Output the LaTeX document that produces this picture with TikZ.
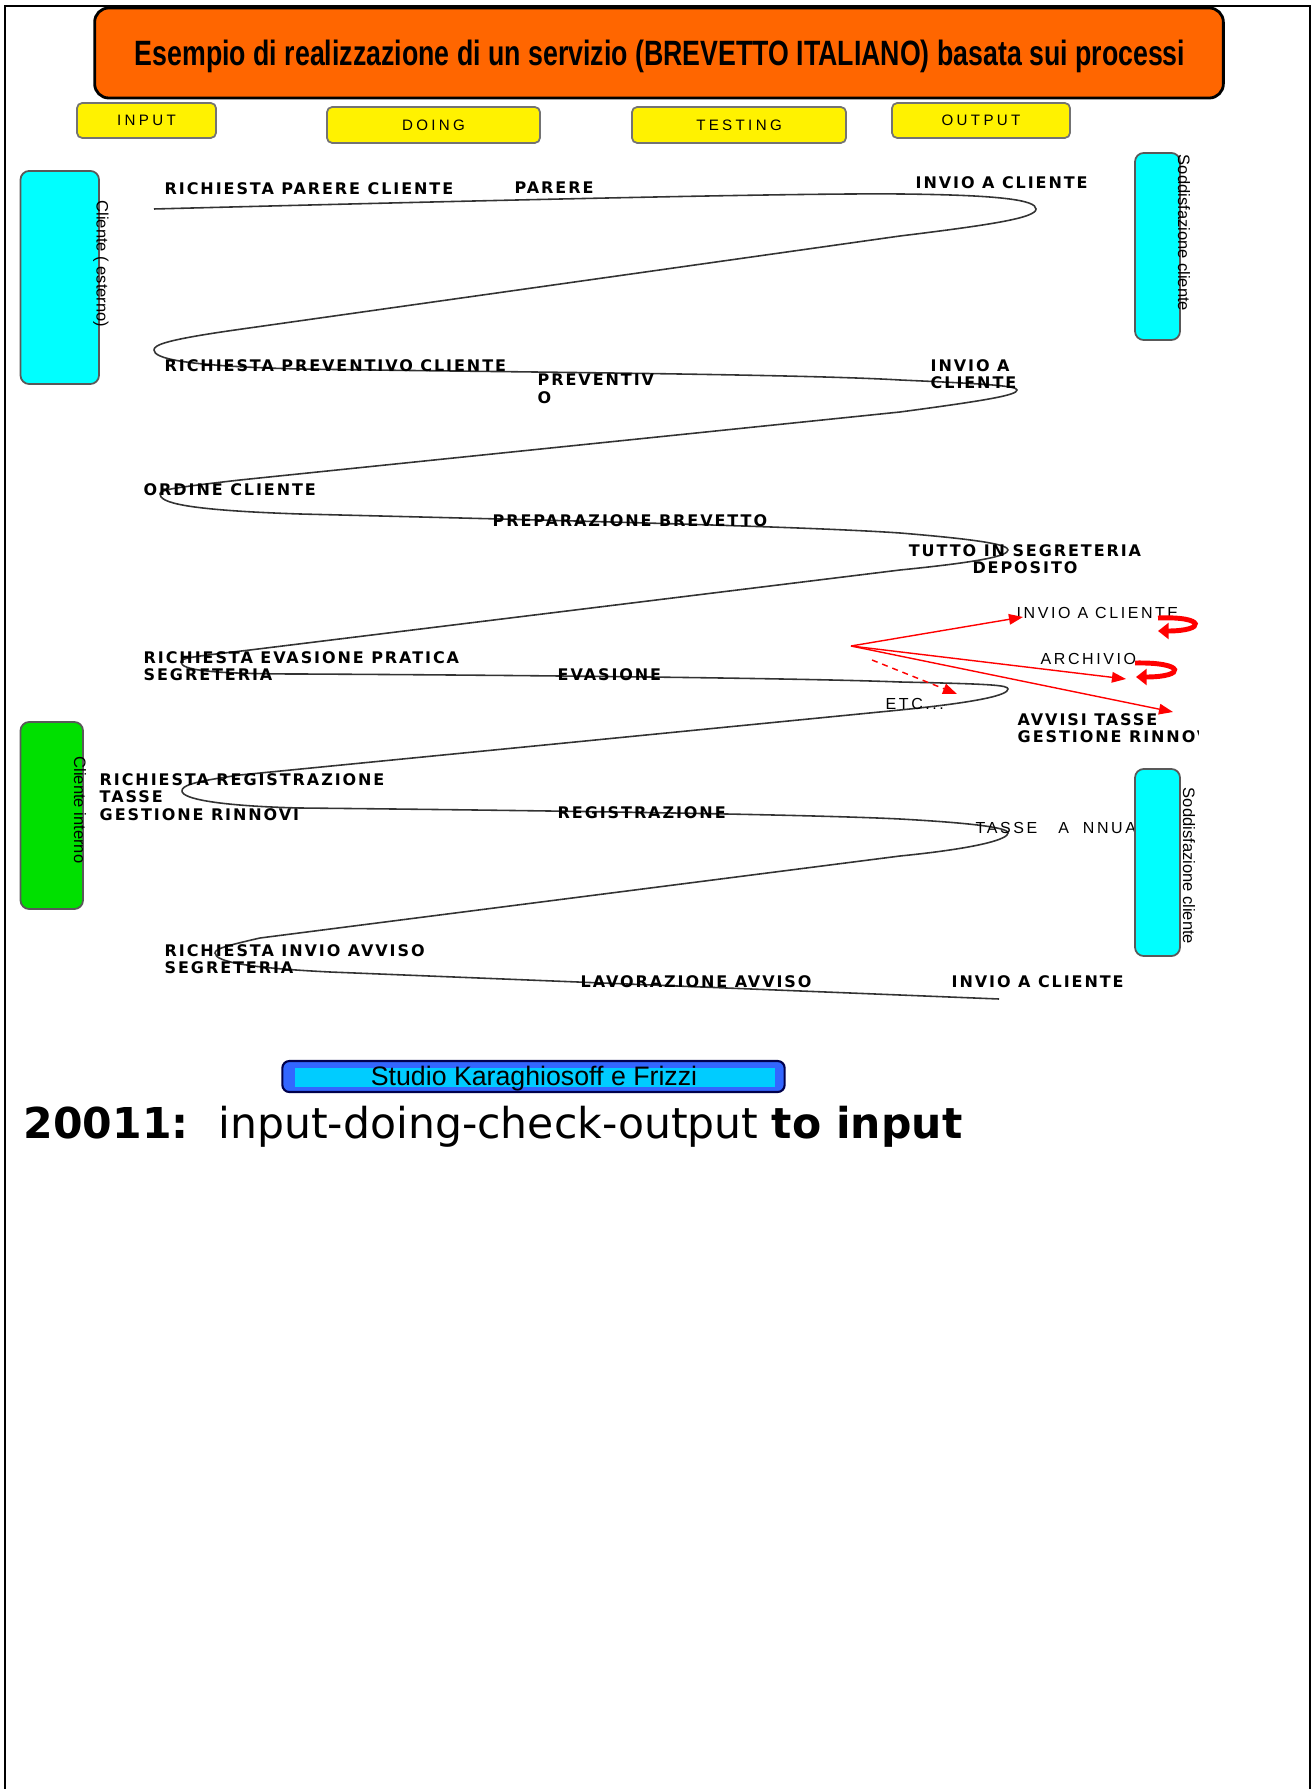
\documentclass[tikz,border=0pt]{standalone}
\usepackage{fontspec}
\setmainfont{Liberation Sans}
\newfontfamily\lblfont[LetterSpace=12]{DejaVu Sans}
\newfontfamily\txtfont[LetterSpace=16]{Liberation Sans}
\newfontfamily\phasefont[LetterSpace=22]{Liberation Sans}
\newfontfamily\slidefont{DejaVu Sans}
\usetikzlibrary{arrows.meta}
\definecolor{titleorange}{HTML}{FF6600}
\definecolor{boxcyan}{HTML}{00FFFF}
\definecolor{boxgreen}{HTML}{00E000}
\definecolor{studioblue}{HTML}{3366FF}
\definecolor{studiocyan}{HTML}{00CCFF}

\begin{document}
\begin{tikzpicture}[x=0.01cm,y=-0.01cm,
  lbl/.style={font=\lblfont\bfseries\fontsize{4.55}{5}\selectfont, inner sep=0pt, anchor=west, align=left},
  txt/.style={font=\txtfont\fontsize{4.55}{5.4}\selectfont, inner sep=0pt, anchor=west},
  phase/.style={draw=black!55, line width=0.5pt, fill=yellow, rounded corners=1.5pt, inner sep=0pt, font=\phasefont\fontsize{4.3}{5}\selectfont},
  actor/.style={draw=black!65, line width=0.5pt, rounded corners=2.5pt, inner sep=0pt},
  side/.style={rotate=-90, inner sep=0pt, font=\fontsize{4.7}{5.6}\selectfont},
  flow/.style={draw=black!80, line width=0.45pt},
  fork/.style={red, line width=0.4pt, -{Triangle[length=4pt,width=3pt]}},
  loopback/.style={red, line width=1.4pt, -{Triangle[length=3pt,width=4.5pt]}}]
\useasboundingbox (0,0) rectangle (1313,1789);
\draw[line width=0.6pt] (5,1789) -- (5,6) -- (1310,6) -- (1310,1789);

% title and phases
\node[draw=black, line width=0.8pt, fill=titleorange, rounded corners=4pt, minimum width=11.28cm, minimum height=0.9cm] (title) at (659,53) {};
\node[inner sep=0pt, font=\bfseries\fontsize{10}{12}\selectfont] (titleTxt) at (660,56)
  {\scalebox{0.76}[1]{Esempio di realizzazione di un servizio (BREVETTO ITALIANO) basata sui processi}};
\node[phase, minimum width=1.39cm, minimum height=0.35cm] (input) at (146.5,120.5) {INPUT};
\node[phase, minimum width=2.13cm, minimum height=0.36cm] (doing) at (433.5,125) {DOING};
\node[phase, minimum width=2.14cm, minimum height=0.36cm] (testing) at (739,125) {TESTING};
\node[phase, minimum width=1.78cm, minimum height=0.35cm] (output) at (981,120.5) {OUTPUT};

% the process thread
\draw[flow] (154,209) .. controls (500,200) and (800,193) .. (900,194)
  .. controls (1000,195) and (1036,200) .. (1036,209)
  .. controls (1036,218) and (990,225) .. (900,236)
  -- (235,330)
  .. controls (165,340) and (154,345) .. (154,350)
  .. controls (154,358) and (180,366) .. (300,369)
  .. controls (500,372) and (800,374) .. (900,380)
  .. controls (990,384) and (1017,386) .. (1017,390)
  .. controls (1017,395) and (990,400) .. (900,412)
  -- (240,480)
  .. controls (170,488) and (160,490) .. (160,494)
  .. controls (160,502) and (180,510) .. (300,514)
  .. controls (500,519) and (800,526) .. (900,533)
  .. controls (985,540) and (1008,545) .. (1008,550)
  .. controls (1008,556) and (980,562) .. (900,570)
  -- (250,650)
  .. controls (190,657) and (181,658) .. (181,662)
  .. controls (181,670) and (210,674) .. (300,674)
  .. controls (500,675) and (800,678) .. (900,682)
  .. controls (990,684) and (1008,685) .. (1008,689)
  .. controls (1008,695) and (980,702) .. (900,710)
  -- (240,775)
  .. controls (190,782) and (182,786) .. (182,791)
  .. controls (182,799) and (220,806) .. (300,808)
  .. controls (500,810) and (800,814) .. (900,819)
  .. controls (990,824) and (1008,829) .. (1008,833)
  .. controls (1008,839) and (980,848) .. (900,856)
  -- (260,938)
  .. controls (225,946) and (215,949) .. (215,953)
  .. controls (215,962) and (250,968) .. (330,972)
  -- (999,999);

% steps
\node[lbl] (parereReq) at (164,189) {RICHIESTA PARERE CLIENTE};
\node[lbl] (parere) at (514,188) {PARERE};
\node[lbl] (invioA) at (915,183) {INVIO A CLIENTE};
\node[lbl] (preventReq) at (164,366) {RICHIESTA PREVENTIVO CLIENTE};
\node[lbl] (preventivo) at (537,389) {PREVENTIV\\O};
\node[lbl] (invioB) at (930,374) {INVIO A\\CLIENTE};
\node[lbl] (ordine) at (143,490) {ORDINE CLIENTE};
\node[lbl] (prep) at (492,521) {PREPARAZIONE BREVETTO};
\node[lbl, anchor=center, align=center] (deposito) at (1025,559) {TUTTO IN SEGRETERIA\\DEPOSITO};
\node[lbl] (evasReq) at (143,666) {RICHIESTA EVASIONE PRATICA\\SEGRETERIA};
\node[lbl] (evasione) at (557,675) {EVASIONE};
\node[lbl] (registrReq) at (99,797) {RICHIESTA REGISTRAZIONE\\TASSE\\GESTIONE RINNOVI};
\node[lbl] (registr) at (557,813) {REGISTRAZIONE};
\node[lbl] (avvisoReq) at (164,959) {RICHIESTA INVIO AVVISO\\SEGRETERIA};
\node[lbl] (lavoraz) at (580,982) {LAVORAZIONE AVVISO};
\node[lbl] (invioC) at (951,982) {INVIO A CLIENTE};
\begin{scope}
\clip (1000,700) rectangle (1198,760);
\node[lbl] (avvisi) at (1017,728) {AVVISI TASSE\\GESTIONE RINNOVI};
\end{scope}

% outputs of the deposit
\node[txt] (invioD) at (1016,613) {INVIO A CLIENTE};
\node[txt] (archivio) at (1040,659) {ARCHIVIO};
\node[txt] (etc) at (885,704) {ETC...};
\node[txt] (tasse) at (975,828) {TASSE\ \ \ A\ \ NNUA};
\coordinate (split) at (851,646);
\coordinate (toInvio) at (1023,617);
\coordinate (toArchivio) at (1126,679);
\coordinate (toAvvisi) at (1173,712);
\coordinate (etcFrom) at (872,660);
\coordinate (toEtc) at (957,694);
\draw[fork] (split) -- (toInvio);
\draw[fork] (split) -- (toArchivio);
\draw[fork] (split) -- (toAvvisi);
\draw[fork, dash pattern=on 1.7pt off 1.4pt] (etcFrom) -- (toEtc);
\draw[loopback] (1158,618) .. controls (1206,616) and (1206,631) .. (1158,631);
\draw[loopback] (1135,663) .. controls (1186,662) and (1186,677) .. (1136,677);

% actors
\node[actor, fill=boxcyan, minimum width=0.785cm, minimum height=2.13cm] (esterno) at (59.75,277.5) {};
\node[side] at (101,264) {Cliente ( esterno)};
\node[actor, fill=boxcyan, minimum width=0.45cm, minimum height=1.87cm] (soddisfA) at (1157.5,246.5) {};
\node[side] at (1184,233) {Soddisfazione cliente};
\node[actor, fill=boxgreen, minimum width=0.625cm, minimum height=1.87cm] (interno) at (51.75,815.5) {};
\node[side] at (80,810) {Cliente interno};
\node[actor, fill=boxcyan, minimum width=0.45cm, minimum height=1.87cm] (soddisfB) at (1157.5,862.5) {};
\node[side] at (1189,866) {Soddisfazione cliente};

% footer
\node[draw=black!70!blue, line width=0.6pt, fill=studioblue, rounded corners=2pt, minimum width=5.02cm, minimum height=0.31cm, inner sep=0pt] (studio) at (533.5,1076.5) {};
\node[fill=studiocyan, minimum width=4.8cm, minimum height=0.19cm, inner sep=0pt] (studioIn) at (534.8,1077.2) {};
\node[inner sep=0pt, font=\fontsize{7.6}{8}\selectfont] (studioTxt) at (534,1079) {Studio Karaghiosoff e Frizzi};
\node[anchor=base west, inner sep=0pt, font=\slidefont\fontsize{12.1}{15}\selectfont] (motto) at (23,1138)
  {\bfseries 20011:\ \ \mdseries input-doing-check-output \bfseries to input};
\end{tikzpicture}
\end{document}
